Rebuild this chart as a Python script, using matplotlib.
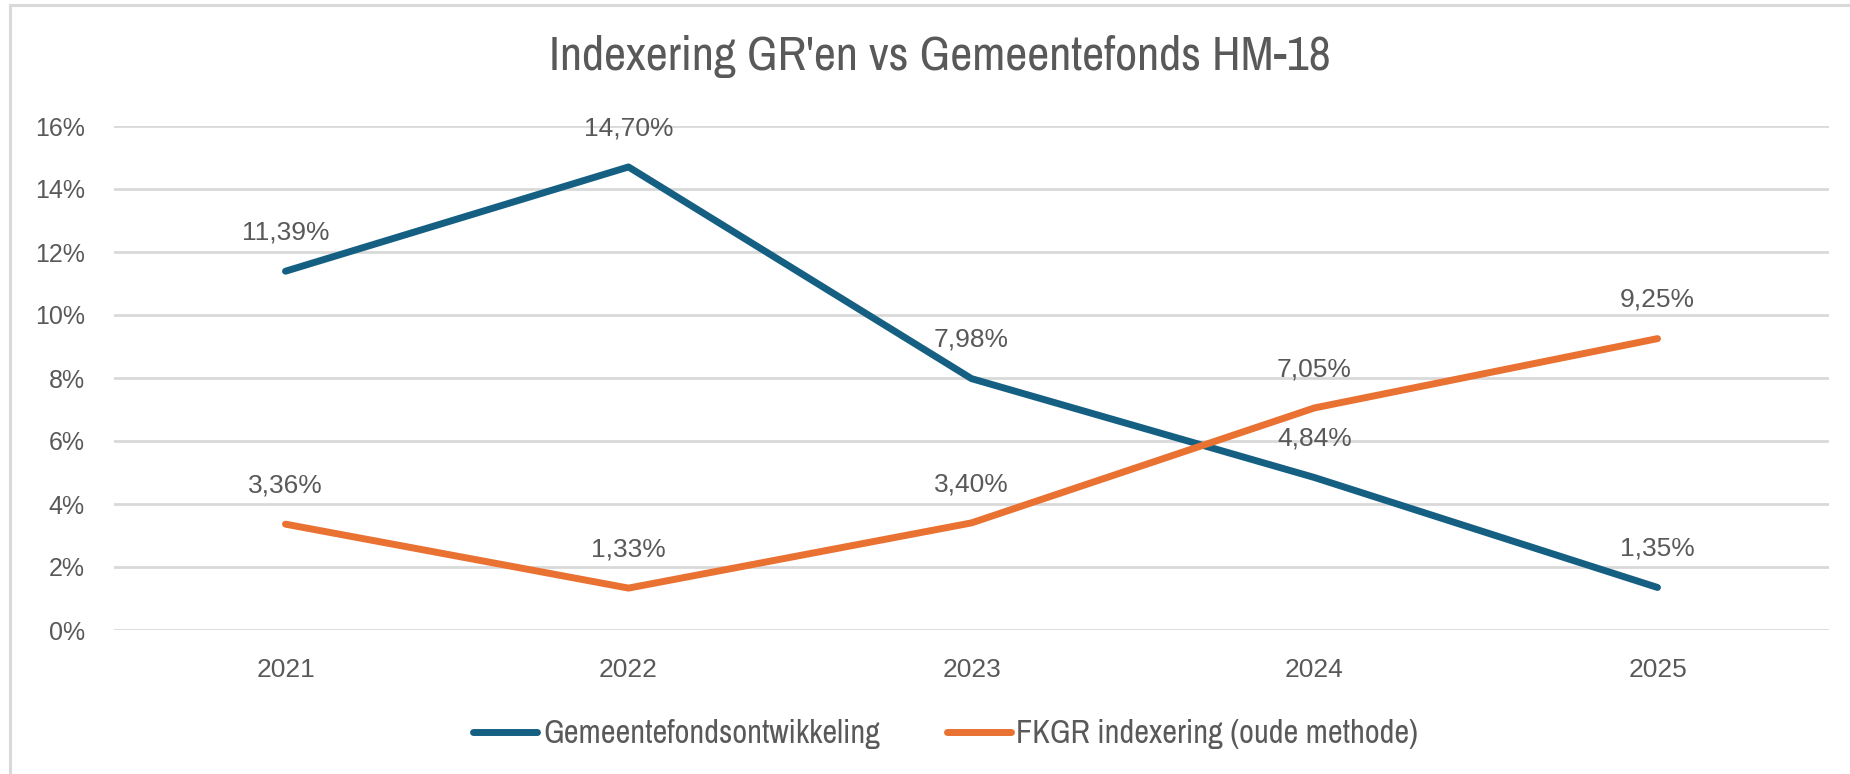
import matplotlib
matplotlib.use("Agg")
import matplotlib.pyplot as plt
from matplotlib.lines import Line2D
from matplotlib import font_manager
from matplotlib.font_manager import FontProperties

years = ["2021", "2022", "2023", "2024", "2025"]
gemeentefonds = [11.39, 14.70, 7.98, 4.84, 1.35]
fkgr = [3.36, 1.33, 3.40, 7.05, 9.25]
series_names = ["Gemeentefondsontwikkeling", "FKGR indexering (oude methode)"]
yticks = [0, 2, 4, 6, 8, 10, 12, 14, 16]
title = "Indexering GR'en vs Gemeentefonds HM-18"

BLUE = "#156082"
ORANGE = "#E97132"
TXT = "#595959"
GRID = "#D9D9D9"

# look for a narrow / condensed sans font (the reference uses a narrow face)
narrow_fp = None
for f in font_manager.fontManager.ttflist:
    n = f.name.lower()
    if ("narrow" in n or "condensed" in n) and f.style == "normal" and f.weight in (400, "normal", "regular"):
        narrow_fp = FontProperties(fname=f.fname)
        break
if narrow_fp is None:
    for f in font_manager.fontManager.ttflist:
        if f.name == "DejaVu Sans" and str(f.stretch) in ("condensed", "semi-condensed") and f.style == "normal" \
                and f.weight in (400, "normal", "regular"):
            narrow_fp = FontProperties(fname=f.fname)
            break
if narrow_fp is None:
    narrow_fp = FontProperties(family="Liberation Sans")

plt.rcParams["font.family"] = ["Liberation Sans", "DejaVu Sans"]

W, H = 1850, 774
fig = plt.figure(figsize=(W / 100, H / 100), dpi=100)
fig.patch.set_facecolor("white")
renderer = fig.canvas.get_renderer()

ax = fig.add_axes([114 / W, 1 - 630 / H, (1829 - 114) / W, (630 - 126) / H])
x = list(range(len(years)))
ax.plot(x, gemeentefonds, color=BLUE, lw=5, solid_capstyle="round", solid_joinstyle="round", zorder=3)
ax.plot(x, fkgr, color=ORANGE, lw=5, solid_capstyle="round", solid_joinstyle="round", zorder=3)

for series in (gemeentefonds, fkgr):
    for xi, v in zip(x, series):
        ax.annotate(f"{v:.2f}%".replace(".", ","), (xi, v), xytext=(0, 28), textcoords="offset points",
                    ha="center", va="center", fontsize=19, color=TXT, zorder=4)

ax.set_xlim(-0.5, len(years) - 0.5)
ax.set_ylim(0, 16)
ax.set_yticks(yticks)
ax.set_yticklabels([f"{t}%" for t in yticks])
ax.set_xticks(x)
ax.set_xticklabels(years)
ax.tick_params(axis="both", length=0, colors=TXT)
ax.tick_params(axis="y", pad=21, labelsize=18)
ax.tick_params(axis="x", pad=20, labelsize=19)
ax.grid(axis="y", color=GRID, lw=2, zorder=0)
ax.set_axisbelow(True)
for s in ax.spines.values():
    s.set_visible(False)


def fit_size(text, fp, target_px, start=20.0):
    t = fig.text(0, 0, text, fontproperties=fp, fontsize=start)
    w = t.get_window_extent(renderer=renderer).width
    t.remove()
    return start * target_px / w


# title
tsize = fit_size(title, narrow_fp, 781)
tfp = narrow_fp.copy()
tfp.set_size(tsize)
fig.text(940 / W, 1 - 57 / H, title, ha="center", va="center", fontproperties=tfp, color=TXT)

# legend
lsize = fit_size(series_names[0], narrow_fp, 336)
lfp = narrow_fp.copy()
lfp.set_size(lsize)
px_per_em = lsize * 100 / 72
handles = [Line2D([], [], color=BLUE, lw=5, solid_capstyle="round"),
           Line2D([], [], color=ORANGE, lw=5, solid_capstyle="round")]
fig.legend(handles, series_names, loc="center", bbox_to_anchor=(946 / W, 1 - 734 / H), ncol=2,
           frameon=False, prop=lfp, labelcolor=TXT,
           handlelength=64 / px_per_em, handletextpad=6 / px_per_em, columnspacing=66 / px_per_em)

# outer chart border (top and left visible)
fig.add_artist(Line2D([10 / W, 1], [1 - 5 / H, 1 - 5 / H], color=GRID, lw=2.2, transform=fig.transFigure))
fig.add_artist(Line2D([10 / W, 10 / W], [0, 1 - 5 / H], color=GRID, lw=2.2, transform=fig.transFigure))

fig.savefig("out.png", dpi=100, facecolor="white")
